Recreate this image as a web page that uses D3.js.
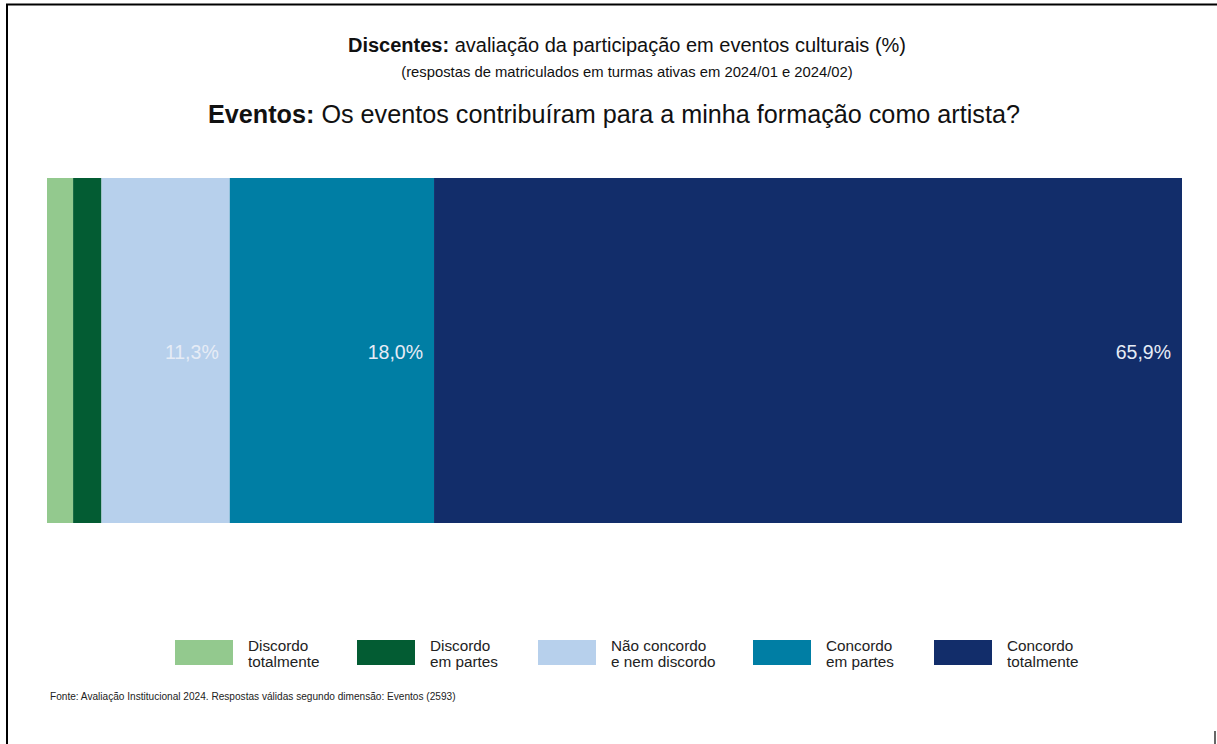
<!DOCTYPE html>
<html><head><meta charset="utf-8">
<script src="https://cdn.jsdelivr.net/npm/d3@7"></script>
<style>
html,body{margin:0;padding:0;background:#fff;}
svg{display:block;font-family:"Liberation Sans",Arial,sans-serif;}
</style></head>
<body><svg id="c" width="1217" height="744"></svg>
<script>
const categories = ["Discordo totalmente","Discordo em partes","Não concordo e nem discordo","Concordo em partes","Concordo totalmente"];
const legendLines = [["Discordo","totalmente"],["Discordo","em partes"],["Não concordo","e nem discordo"],["Concordo","em partes"],["Concordo","totalmente"]];
const values = [2.3, 2.5, 11.3, 18.0, 65.9];
const colors = ["#93c98e","#035c33","#b7d0ec","#007ea4","#122d6a"];
const showLabel = [false,false,true,true,true];
const legendX = [175,357,538,753,934];

const svg = d3.select("#c");

// frame
svg.append("line").attr("x1",6).attr("x2",1217).attr("y1",4.5).attr("y2",4.5).attr("stroke","#000").attr("stroke-width",2);
svg.append("line").attr("x1",7).attr("x2",7).attr("y1",4).attr("y2",744).attr("stroke","#000").attr("stroke-width",2);
svg.append("line").attr("x1",1215).attr("x2",1215).attr("y1",731).attr("y2",744).attr("stroke","#000").attr("stroke-width",1.2);

// titles
const t1 = svg.append("text").attr("x",627).attr("y",52).attr("text-anchor","middle").attr("font-size",20).attr("fill","#111");
t1.append("tspan").attr("font-weight","bold").text("Discentes:");
t1.append("tspan").text(" avaliação da participação em eventos culturais (%)");
svg.append("text").attr("x",627).attr("y",77).attr("text-anchor","middle").attr("font-size",14.8).attr("fill","#111")
  .text("(respostas de matriculados em turmas ativas em 2024/01 e 2024/02)");
const t2 = svg.append("text").attr("x",614).attr("y",123).attr("text-anchor","middle").attr("font-size",25.2).attr("fill","#111");
t2.append("tspan").attr("font-weight","bold").text("Eventos:");
t2.append("tspan").text(" Os eventos contribuíram para a minha formação como artista?");

// stacked bar
const total = d3.sum(values);
const x = d3.scaleLinear().domain([0,total]).range([47,1182]);
const y = d3.scaleBand().domain(["Eventos"]).range([178,523]).padding(0);
let cum = 0;
const segs = values.map((v,i)=>{const s={i,v,x0:cum,x1:cum+v}; cum+=v; return s;});
svg.append("g").selectAll("rect").data(segs).join("rect")
  .attr("x",d=>x(d.x0)).attr("width",d=>x(d.x1)-x(d.x0))
  .attr("y",y("Eventos")).attr("height",y.bandwidth())
  .attr("fill",d=>colors[d.i]);
svg.append("g").selectAll("text").data(segs.filter(d=>showLabel[d.i])).join("text")
  .attr("x",d=>x(d.x1)-11).attr("y",y("Eventos")+y.bandwidth()/2+8)
  .attr("text-anchor","end").attr("font-size",19.5).attr("fill","#e6ecf6")
  .text(d=>d3.format(".1f")(d.v).replace(".",",")+"%");

// legend
const lg = svg.append("g");
categories.forEach((c,i)=>{
  const g = lg.append("g").attr("transform",`translate(${legendX[i]},0)`);
  g.append("rect").attr("x",0).attr("y",640).attr("width",58).attr("height",25).attr("fill",colors[i]);
  const t = g.append("text").attr("x",73).attr("y",651).attr("font-size",15.3).attr("fill","#222");
  legendLines[i].forEach((l,j)=>t.append("tspan").attr("x",73).attr("y",651+j*16).text(l));
});

// footer
svg.append("text").attr("x",50).attr("y",700).attr("font-size",10.1).attr("fill","#222")
  .text("Fonte: Avaliação Institucional 2024. Respostas válidas segundo dimensão: Eventos (2593)");
</script></body></html>
